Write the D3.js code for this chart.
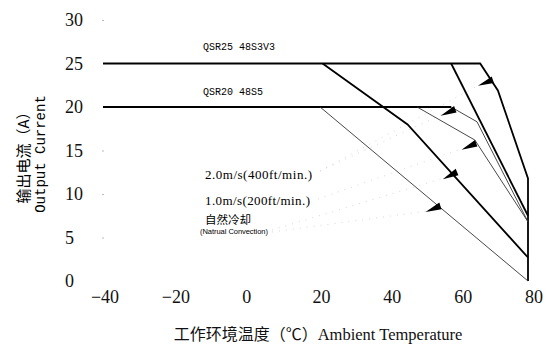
<!DOCTYPE html>
<html>
<head>
<meta charset="utf-8">
<script src="https://cdn.jsdelivr.net/npm/d3@7"></script>
<style>
  body { margin: 0; background: #fff; }
  svg { display: block; }
</style>
</head>
<body>
<div class="derating"></div>
<script>
const WIDTH = 547;
const HEIGHT = 347;

// tick labels
const xTicks = [-40, -20, 0, 20, 40, 60, 80];
const yTicks = [0, 5, 10, 15, 20, 25, 30];

// QSR25 48S3V3 curves, [temperature, current]
const qsr25Air2 = [[-40, 25], [66.5, 25], [71.5, 21.9], [80, 11.8], [80, 0]];
const qsr25Air1 = [[58.3, 25], [80, 7.5]];
const qsr25Natural = [[22, 25], [46, 18], [80, 2.7]];

// QSR20 48S5 curves
const qsr20Flat = [[-40, 20], [58.3, 20]];
const qsr20Air2 = [[58.3, 20], [65.6, 18.3], [80, 6.8]];
const qsr20Air1 = [[48.7, 20], [65, 16.2], [80, 6.8]];
const qsr20Natural = [[21.3, 20], [80, 0]];

// arrow tips sitting on the curves
const arrowTips = [[70.1, 23.1], [59.5, 19.7], [65.4, 15.8], [60, 12.5], [55.3, 8.6]];
const arrowAngles = [-18, -20, -20, -23, -18];

const svg = d3.select('.derating')
    .append('svg')
    .attr('width', WIDTH)
    .attr('height', HEIGHT);

const x = d3.scaleLinear().domain([-40, 80]).range([103, 528]);
const y = d3.scaleLinear().domain([0, 30]).range([281, 20]);

const line = d3.line()
    .x((d) => x(d[0]))
    .y((d) => y(d[1]));

// faint tick marks left over at the left edge
svg.selectAll('.tick-dot')
    .data([30, 15, 10, 5])
    .enter().append('rect')
    .attr('x', x(-40) - 1)
    .attr('y', (d) => y(d))
    .attr('width', 2)
    .attr('height', 1)
    .style('fill', '#bbb');

// y tick labels (left aligned)
svg.selectAll('.ylab')
    .data(yTicks)
    .enter().append('text')
    .attr('x', 65)
    .attr('y', (d) => y(d))
    .attr('dy', '0.35em')
    .style('font-family', '"Liberation Serif", serif')
    .style('font-size', '18px')
    .style('fill', '#111')
    .text((d) => d);

// x tick labels
svg.selectAll('.xlab')
    .data(xTicks)
    .enter().append('text')
    .attr('x', (d) => x(d) + (d > 0 ? 6 : 2))
    .attr('y', 297)
    .attr('dy', '0.35em')
    .attr('text-anchor', 'middle')
    .style('font-family', '"Liberation Serif", serif')
    .style('font-size', '18px')
    .style('fill', '#111')
    .text((d) => (d < 0 ? '\u2212' + Math.abs(d) : d));

// faint dotted leaders from the notes to the arrows
const leaders = [
  [[320, 171], [x(59.5) - 14, y(19.7) + 5]],
  [[320, 171], [x(70.1) - 14, y(23.1) + 5]],
  [[318, 199], [x(65.4) - 14, y(15.8) + 5]],
  [[272, 230], [x(60) - 14, y(12.5) + 6]],
  [[272, 232], [x(55.3) - 14, y(8.6) + 5]]
];
svg.selectAll('.leader')
    .data(leaders)
    .enter().append('line')
    .attr('x1', (d) => d[0][0])
    .attr('y1', (d) => d[0][1])
    .attr('x2', (d) => d[1][0])
    .attr('y2', (d) => d[1][1])
    .style('stroke', '#d8d8d8')
    .style('stroke-width', 1)
    .style('stroke-dasharray', '1,6');

// thick curves
[qsr25Air2, qsr25Air1, qsr25Natural, qsr20Flat].forEach((pts) => {
  svg.append('path')
      .attr('d', line(pts))
      .style('fill', 'none')
      .style('stroke', '#000')
      .style('stroke-width', 1.8);
});

// thin curves
[qsr20Air2, qsr20Air1, qsr20Natural].forEach((pts) => {
  svg.append('path')
      .attr('d', line(pts))
      .style('fill', 'none')
      .style('stroke', '#333')
      .style('stroke-width', 0.9);
});

// arrow wedges: broad end on the curve, point away from it
svg.selectAll('.arrow')
    .data(arrowTips)
    .enter().append('polygon')
    .attr('points', '0,-3.8 0,3.2 -16,0.8')
    .attr('transform', (d, i) =>
        `translate(${x(d[0])},${y(d[1])}) rotate(${arrowAngles[i]})`)
    .style('fill', '#000');

// curve labels
const mono = '"Liberation Mono", "DejaVu Sans Mono", monospace';
svg.append('text')
    .attr('x', 203).attr('y', 50)
    .style('font-family', mono).style('font-size', '10px')
    .text('QSR25 48S3V3');
svg.append('text')
    .attr('x', 203).attr('y', 95)
    .style('font-family', mono).style('font-size', '10px')
    .text('QSR20 48S5');

const serif = '"Liberation Serif", serif';
svg.append('text')
    .attr('x', 205).attr('y', 179)
    .attr('textLength', 107)
    .style('font-family', serif).style('font-size', '13px')
    .text('2.0m/s(400ft/min.)');
svg.append('text')
    .attr('x', 205).attr('y', 205)
    .attr('textLength', 105)
    .style('font-family', serif).style('font-size', '13px')
    .text('1.0m/s(200ft/min.)');
svg.append('text')
    .attr('x', 205).attr('y', 224)
    .style('font-family', '"Noto Sans CJK SC", sans-serif').style('font-size', '11.5px')
    .text('自然冷却');
svg.append('text')
    .attr('x', 200).attr('y', 234)
    .attr('textLength', 68)
    .style('font-family', '"Liberation Sans", sans-serif').style('font-size', '7.5px')
    .text('(Natrual Convection)');

// y axis title, two rotated lines
const yTitle = svg.append('g').attr('transform', 'translate(0,154) rotate(-90)');
yTitle.append('text')
    .attr('x', 0).attr('y', 29)
    .attr('text-anchor', 'middle')
    .style('font-family', '"Noto Sans CJK SC", sans-serif').style('font-size', '15px')
    .text('输出电流（A）');
yTitle.append('text')
    .attr('x', 0).attr('y', 45)
    .attr('text-anchor', 'middle')
    .style('font-family', mono).style('font-size', '14px')
    .text('Output Current');

// x axis title
const xTitle = svg.append('text')
    .attr('x', 318).attr('y', 340)
    .attr('text-anchor', 'middle')
    .style('fill', '#111');
xTitle.append('tspan')
    .style('font-family', '"Noto Sans CJK SC", sans-serif').style('font-size', '16px')
    .text('工作环境温度（℃）');
xTitle.append('tspan')
    .style('font-family', serif).style('font-size', '16.5px')
    .text('Ambient Temperature');
</script>
</body>
</html>
